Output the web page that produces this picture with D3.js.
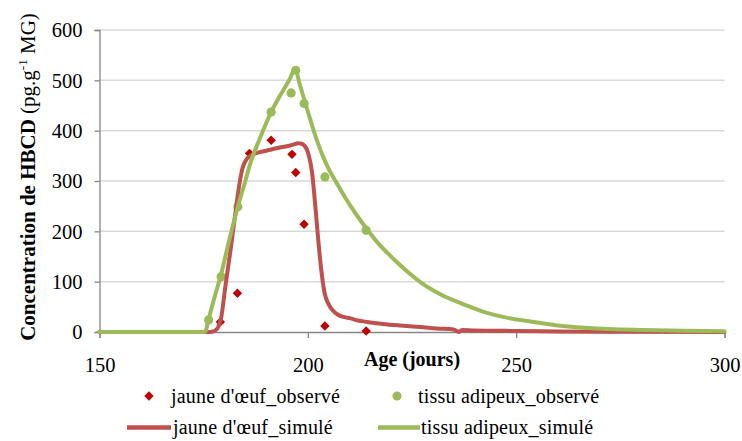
<!DOCTYPE html>
<html>
<head>
<meta charset="utf-8">
<script src="https://cdn.jsdelivr.net/npm/d3@7"></script>
<style>
  html, body { margin: 0; padding: 0; background: #ffffff; }
  svg { display: block; }
  svg text { font-family: "Liberation Serif", "Times New Roman", Tinos, "DejaVu Serif", serif; fill: #000; }
</style>
</head>
<body>
<div id="chart"></div>
<script>
// ---- data ----
const xTicks = [150, 200, 250, 300];
const yTicks = [0, 100, 200, 300, 400, 500, 600];

// observed points
const jauneObsX = [179, 183.1, 186, 191.2, 196.2, 197.1, 199.1, 204.1, 214];
const jauneObsY = [20, 77, 355, 381, 353, 317, 214, 12, 2];
const tissuObsX = [176.2, 179.2, 183.2, 191.2, 196, 197.1, 199.1, 204.1, 214];
const tissuObsY = [24, 110, 249, 437, 475, 520, 454, 308, 202];

// simulated curves
const jauneSimX = [150, 176.3, 177, 177.8, 178.5, 179.2, 180.2, 181.4, 182.6, 183.5, 184.3, 185.2, 186.2, 187.5, 190, 193, 196, 197.8, 198.5, 199.2, 199.8, 200.4, 201, 201.8, 202.5, 203.2, 204, 205, 206.2, 207.5, 208.6, 210.2, 212, 214.2, 218, 222, 227, 231, 235, 236.2, 237, 240, 245, 250, 260, 270, 280, 300];
const jauneSimY = [0, 0, 0.5, 3, 10, 28, 90, 160, 235, 290, 325, 342, 350, 355, 360, 366, 371, 375, 374, 370, 362, 345, 318, 250, 183, 125, 78, 55, 41, 33, 30, 27, 23, 20, 16, 13, 10, 7, 5, 0, 4, 3, 2.5, 2, 1.2, 0.7, 0.4, 0];

const tissuSimX = [150, 175.3, 176.2, 177.5, 179.2, 181, 183.2, 185, 186.2, 188.5, 191.2, 193.5, 195.5, 197, 198, 199, 200, 201, 202, 203, 204, 205, 206.2, 207.5, 208.6, 210.2, 212, 214.2, 217, 220.6, 224, 227, 232, 237.4, 243, 248, 253.4, 260, 269.3, 280, 290, 300];
const tissuSimY = [0, 0, 26, 66, 115, 178, 249, 300, 335, 385, 437, 472, 500, 522, 494, 466, 438, 411, 385, 362, 342, 324, 306, 288, 272, 251, 229, 204, 175, 145, 119, 99, 74, 55, 38, 28, 21, 13, 7, 4, 2.5, 1.5];

const legendLabels = ["jaune d'œuf_observé", "tissu adipeux_observé", "jaune d'œuf_simulé", "tissu adipeux_simulé"];

const colRedObs = "#C00000";
const colRedSim = "#C0504D";
const colGreen = "#9BBB59";
const FONT = "'Liberation Serif', 'Times New Roman', Tinos, 'DejaVu Serif', serif";

// ---- layout ----
const W = 742, H = 441;
const svg = d3.select("#chart").append("svg").attr("width", W).attr("height", H)
  .attr("font-family", FONT);

const x = d3.scaleLinear().domain([150, 300]).range([99.5, 724.5]);
const y = d3.scaleLinear().domain([0, 600]).range([332, 30]);

// gridlines
svg.append("g").selectAll("line").data(yTicks.filter(d => d > 0)).join("line")
  .attr("x1", x(150)).attr("x2", x(300))
  .attr("y1", d => y(d)).attr("y2", d => y(d))
  .attr("stroke", "#d9d9d9").attr("stroke-width", 1.5);

// y axis
const yAxis = svg.append("g").attr("transform", `translate(${x(150)},0)`)
  .call(d3.axisLeft(y).tickValues(yTicks).tickSize(5).tickPadding(12).tickFormat(d3.format("d")));
yAxis.attr("font-family", FONT);
yAxis.select(".domain").attr("stroke", "#868686").attr("stroke-width", 1.3);
yAxis.selectAll(".tick line").attr("stroke", "#868686").attr("stroke-width", 1.3);
yAxis.selectAll(".tick text").attr("font-size", 20.5).attr("dy", "0.33em");

// x axis
const xAxis = svg.append("g").attr("transform", `translate(0,${y(0)})`)
  .call(d3.axisBottom(x).tickValues(xTicks).tickSize(6).tickPadding(19).tickFormat(d3.format("d")));
xAxis.attr("font-family", FONT);
xAxis.select(".domain").attr("stroke", "#868686").attr("stroke-width", 1.3);
xAxis.selectAll(".tick line").attr("stroke", "#868686").attr("stroke-width", 1.3);
xAxis.selectAll(".tick text").attr("font-size", 20.5);

// observed markers
const jauneObs = jauneObsX.map((v, i) => [v, jauneObsY[i]]);
const tissuObs = tissuObsX.map((v, i) => [v, tissuObsY[i]]);
const diamond = d3.symbol(d3.symbolSquare, 44);

svg.append("g").selectAll("path").data(jauneObs).join("path")
  .attr("d", diamond)
  .attr("transform", d => `translate(${x(d[0])},${y(d[1])}) rotate(45)`)
  .attr("fill", colRedObs);

svg.append("g").selectAll("circle").data(tissuObs).join("circle")
  .attr("cx", d => x(d[0])).attr("cy", d => y(d[1])).attr("r", 4.6)
  .attr("fill", colGreen);

// simulated lines
const line = d3.line().x(d => x(d[0])).y(d => y(d[1])).curve(d3.curveMonotoneX);
const jauneSim = jauneSimX.map((v, i) => [v, jauneSimY[i]]);
const tissuSim = tissuSimX.map((v, i) => [v, tissuSimY[i]]);

svg.append("path").datum(jauneSim).attr("d", line)
  .attr("fill", "none").attr("stroke", colRedSim).attr("stroke-width", 4)
  .attr("stroke-linejoin", "round").attr("stroke-linecap", "round");
svg.append("path").datum(tissuSim).attr("d", line)
  .attr("fill", "none").attr("stroke", colGreen).attr("stroke-width", 4)
  .attr("stroke-linejoin", "round").attr("stroke-linecap", "round");

// axis titles
svg.append("text").attr("x", 412).attr("y", 365.5).attr("text-anchor", "middle")
  .attr("font-size", 20).attr("font-weight", "bold").text("Age (jours)");

const yt = svg.append("text").attr("transform", "translate(35,177) rotate(-90)")
  .attr("text-anchor", "middle").attr("font-size", 21);
yt.append("tspan").attr("font-weight", "bold").text("Concentration de HBCD ");
yt.append("tspan").text("(pg.g");
yt.append("tspan").attr("font-size", 13).attr("dy", -8).text("-1");
yt.append("tspan").attr("dy", 8).text(" MG)");

// legend
const lg = svg.append("g").attr("font-size", 20).attr("letter-spacing", 0.2);
lg.append("path").attr("d", diamond).attr("transform", "translate(149,396) rotate(45)").attr("fill", colRedObs);
lg.append("text").attr("x", 171).attr("y", 403).text(legendLabels[0]);
lg.append("circle").attr("cx", 397).attr("cy", 396).attr("r", 4.6).attr("fill", colGreen);
lg.append("text").attr("x", 418).attr("y", 403).text(legendLabels[1]);
lg.append("line").attr("x1", 127).attr("x2", 171).attr("y1", 427.5).attr("y2", 427.5)
  .attr("stroke", colRedSim).attr("stroke-width", 4.5);
lg.append("text").attr("x", 173).attr("y", 434).text(legendLabels[2]);
lg.append("line").attr("x1", 378).attr("x2", 420).attr("y1", 427.5).attr("y2", 427.5)
  .attr("stroke", colGreen).attr("stroke-width", 4.5);
lg.append("text").attr("x", 421).attr("y", 434).text(legendLabels[3]);
</script>
</body>
</html>
